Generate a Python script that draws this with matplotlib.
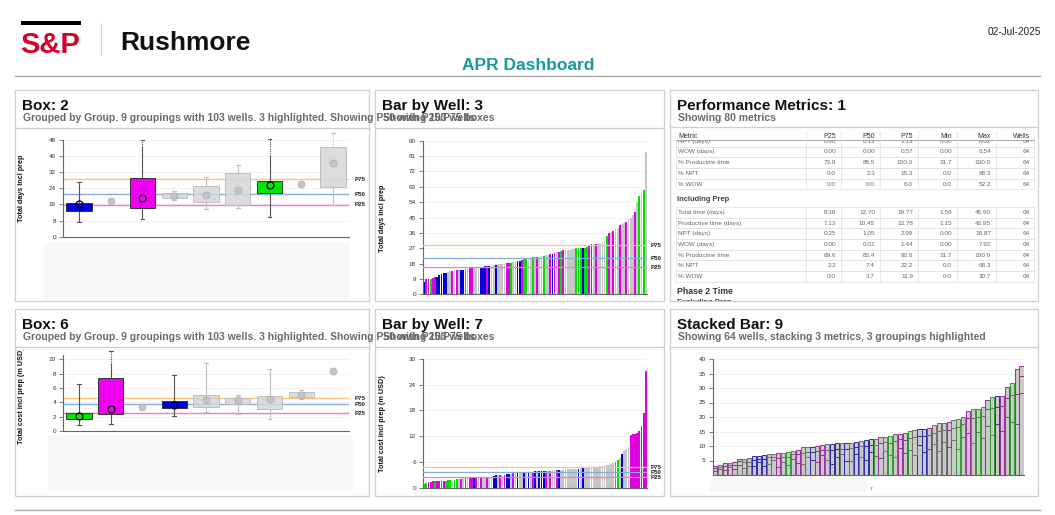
import numpy as np
import matplotlib
matplotlib.use('Agg')
import matplotlib.pyplot as plt
from matplotlib.patches import Rectangle

W, H = 1055, 515
plt.rcParams['font.family'] = ['Liberation Sans', 'DejaVu Sans']
nan = np.nan

# ---------------- data ----------------
ref_names = ['P75', 'P50', 'P25']

# Box: 2  (Total days incl prep)
box2_keys = ['B', 'Y', 'M', 'Y', 'Y', 'Y', 'G', 'Y', 'Y']
box2_q1 = [12.6, nan, 14.4, 19.0, 17.1, 15.9, 21.8, nan, 24.8]
box2_q3 = [16.7, nan, 29.1, 21.5, 25.3, 31.4, 27.8, nan, 44.4]
box2_med = [16.1, 17.5, 19.4, 20.3, 20.5, 23.2, 25.7, 26.0, 36.4]
box2_lo = [7.1, nan, 8.8, 18.2, 13.7, 14.4, 9.9, nan, 15.7]
box2_hi = [27.0, nan, 44.5, 22.5, 29.8, 35.7, 40.0, nan, 44.4]
box2_ext = [nan, nan, 48.0, nan, nan, nan, 48.5, nan, 51.3]
box2_refs = [28.5, 21.0, 15.9]
box2_yticks = [0, 8, 16, 24, 32, 40, 48]

# Box: 6  (Total cost incl prep, m USD)
box6_keys = ['G', 'M', 'Y', 'B', 'Y', 'Y', 'Y', 'Y', 'Y']
box6_q1 = [1.62, 2.36, nan, 3.19, 3.38, 3.80, 3.01, 4.68, nan]
box6_q3 = [2.46, 7.45, nan, 4.12, 5.09, 4.58, 4.86, 5.37, nan]
box6_med = [2.04, 3.10, 3.29, 3.65, 4.26, 4.36, 4.49, 5.05, 8.38]
box6_lo = [0.83, 0.97, nan, 2.04, 2.59, 2.31, 1.62, 4.40, nan]
box6_hi = [6.57, 9.40, nan, 7.87, 9.54, 5.09, 8.70, 5.65, nan]
box6_ext = [nan, 11.1, nan, nan, nan, nan, nan, nan, nan]
box6_refs = [4.58, 3.70, 2.45]
box6_yticks = [0, 2, 4, 6, 8, 10]

# Bar by Well: 3  (Total days incl prep, 103 wells)
bar3_vals = [7.0, 8.8, 8.9, 9.0, 9.4, 10.0, 10.4, 11.2, 11.8, 12.3,
             12.7, 13.1, 13.5, 13.8, 14.0, 14.1, 14.2, 14.4, 14.5, 14.7,
             15.0, 15.3, 15.5, 15.6, 15.7, 15.8, 16.0, 16.2, 16.4, 16.5,
             16.6, 16.8, 17.0, 17.3, 17.5, 17.7, 17.8, 17.9, 18.1, 18.3,
             18.6, 18.9, 19.2, 19.5, 19.8, 20.1, 20.5, 20.9, 21.3, 21.5,
             21.6, 21.7, 21.8, 22.0, 22.2, 22.5, 22.8, 23.1, 23.4, 23.8,
             24.1, 24.5, 24.9, 25.4, 25.8, 25.9, 26.0, 26.2, 26.5, 26.8,
             27.1, 27.2, 27.3, 27.3, 27.4, 27.6, 28.6, 29.2, 29.3, 29.4,
             29.7, 30.3, 30.9, 32.0, 34.4, 35.7, 36.3, 37.1, 38.0, 39.0,
             40.6, 41.0, 42.0, 42.3, 44.0, 45.0, 46.5, 48.0, 54.3, 57.6,
             59.6, 61.1, 83.6]
bar3_keys = ("BMMGMMBBBB" "BYYMYMYBBG" "YMMYYYBBBM" "BYYBYYYYMM" "GYYBBMGGYY"
             "GYMYYGYYMB" "MYMGMYYYYY" "GGGBGGMMYM" "YYYYGMYMYY" "MYYMYYYMYG" "YGY")
bar3_refs = [28.7, 21.1, 15.8]
bar3_yticks = [0, 9, 18, 27, 36, 45, 54, 63, 72, 81, 90]

# Bar by Well: 7  (Total cost incl prep, m USD)
bar7_vals = [0.9, 1.2, 1.35, 1.4, 1.45, 1.5, 1.5, 1.55, 1.55, 1.6,
             1.65, 1.7, 1.7, 1.75, 1.9, 1.95, 2.0, 2.1, 2.15, 2.2,
             2.25, 2.25, 2.3, 2.3, 2.35, 2.35, 2.45, 2.5, 2.5, 2.55,
             2.6, 2.65, 2.8, 2.85, 2.9, 3.0, 3.0, 3.05, 3.2, 3.25,
             3.3, 3.35, 3.4, 3.5, 3.5, 3.55, 3.6, 3.65, 3.7, 3.7,
             3.75, 3.8, 3.8, 3.85, 3.9, 3.9, 3.95, 4.0, 4.0, 4.05,
             4.1, 4.1, 4.15, 4.2, 4.2, 4.25, 4.25, 4.3, 4.3, 4.35,
             4.4, 4.45, 4.5, 4.5, 4.55, 4.6, 4.65, 4.7, 4.75, 4.8,
             4.9, 5.0, 5.1, 5.2, 5.3, 5.4, 5.5, 5.7, 6.0, 6.5,
             7.0, 7.9, 8.5, 9.0, 9.6, 12.4, 12.5, 12.6, 12.8, 13.3,
             14.3, 17.5, 27.2]
bar7_keys = ("GGMMMGMMGM" "GGGYGGYMYM" "YMMBMYMYYM" "YYBBYMYMBB" "YMYBYYBYBY"
             "MBYBBBMYMY" "YMBYYYYYYY" "YBYBYYYYYY" "YYYYYYYYGG" "YBYYYMMMMM" "MMM")
bar7_refs = [4.74, 3.57, 2.41]
bar7_yticks = [0, 6, 12, 18, 24, 30]

# Stacked Bar: 9  (64 wells, 3 metrics)
stk_keys = "PYPYPPYYBB" "BYYPYGYPYG" "BPPYBBYBYB" "YBBGPYGYPP" "GYBBPYGYPY" "GYPYGYPGBP" "PGPP"
stk_a = [1.5, 2.2, 1.8, 2.9, 2.1, 3.6, 2.4, 3.1, 3.2, 4.5, 3.0, 3.9, 5.1, 2.8, 4.4, 3.5,
         5.6, 4.0, 3.7, 6.2, 5.1, 4.6, 6.8, 5.3, 3.9, 6.1, 7.2, 5.0, 4.8, 7.4, 6.3, 5.2,
         8.1, 6.6, 5.7, 8.4, 7.0, 6.1, 9.3, 7.5, 8.6, 6.8, 10.2, 7.9, 9.1, 10.8, 8.2, 11.5,
         9.6, 12.1, 8.8, 13.0, 14.4, 11.2, 15.0, 12.6, 16.8, 13.9, 17.5, 15.3, 20.1, 18.4, 17.6, 28.2]
stk_b = [0.9, 0.6, 1.4, 0.7, 1.5, 1.1, 2.0, 1.4, 2.1, 1.0, 2.4, 2.2, 1.1, 3.0, 1.9, 2.6,
         1.5, 3.1, 3.9, 1.8, 2.9, 3.6, 1.7, 3.4, 4.8, 2.9, 1.9, 4.1, 4.4, 2.1, 3.6, 4.9,
         2.3, 3.9, 5.2, 2.9, 4.1, 5.5, 3.0, 4.6, 4.0, 6.2, 3.1, 5.4, 4.6, 3.8, 6.9, 4.1,
         6.0, 4.2, 7.7, 4.5, 5.3, 8.6, 5.0, 7.9, 6.1, 9.2, 6.0, 8.5, 6.3, 9.1, 10.2, 5.9]
stk_c = [0.8, 0.65, 1.05, 0.65, 0.8, 0.8, 1.2, 1.2, 1.25, 1.2, 1.4, 1.3, 1.2, 1.7, 1.3, 1.7,
         1.3, 1.4, 1.9, 1.65, 1.8, 1.9, 1.8, 1.9, 2.1, 1.9, 1.8, 1.8, 1.7, 1.8, 1.9, 2.0,
         1.9, 2.0, 2.1, 1.8, 2.2, 2.5, 2.0, 2.3, 2.6, 2.5, 2.4, 2.4, 2.4, 2.5, 2.7, 2.3,
         2.7, 2.6, 2.7, 2.4, 2.4, 2.8, 2.9, 2.8, 2.8, 3.8, 3.6, 3.3, 3.8, 4.1, 8.6, 3.5]
stk_yticks = [5, 10, 15, 20, 25, 30, 35, 40]

# Performance metrics table
table_cols = ['P25', 'P50', 'P75', 'Min', 'Max', 'Wells']
excl_labels = ['NPT (days)', 'WOW (days)', '% Productive time', '% NPT', '% WOW']
excl_values = [['0.00', '0.13', '1.13', '0.00', '8.02', '64'],
               ['0.00', '0.00', '0.57', '0.00', '6.54', '64'],
               ['73.9', '88.5', '100.0', '31.7', '100.0', '64'],
               ['0.0', '2.3', '15.3', '0.0', '68.3', '64'],
               ['0.0', '0.0', '6.0', '0.0', '52.2', '64']]
incl_labels = ['Total time (days)', 'Productive time (days)', 'NPT (days)', 'WOW (days)',
               '% Productive time', '% NPT', '% WOW']
incl_values = [['8.38', '12.70', '19.77', '1.56', '45.90', '64'],
               ['7.13', '10.45', '13.78', '1.15', '43.95', '64'],
               ['0.25', '1.05', '2.99', '0.00', '18.87', '64'],
               ['0.00', '0.02', '1.44', '0.00', '7.92', '64'],
               ['69.6', '83.4', '93.6', '31.7', '100.0', '64'],
               ['2.2', '7.4', '22.2', '0.0', '68.3', '64'],
               ['0.0', '3.7', '11.9', '0.0', '30.7', '64']]

# ---------------- styles ----------------
PAL = {'B': '#0000e6', 'M': '#f000f0', 'G': '#00e600', 'Y': '#d6d6d6'}
BARPAL = {'B': '#0000d8', 'M': '#e000e0', 'G': '#00e000', 'Y': '#c6c6c6'}
STKEDGE = {'P': '#9a2e9a', 'B': '#2e2ea6', 'G': '#2e9a2e', 'Y': '#707070'}
REFC = ['#ffc47a', '#7fb0e0', '#ee7ccc']
GRID = '#f0f0f0'
AXC = '#666666'

fig = plt.figure(figsize=(W / 100, H / 100), dpi=100)
fig.patch.set_facecolor('white')


def px_axes(x0, y0, x1, y1):
    return fig.add_axes([x0 / W, 1 - y1 / H, (x1 - x0) / W, (y1 - y0) / H])


def px_canvas(x0, y0, x1, y1):
    a = px_axes(x0, y0, x1, y1)
    a.set_xlim(x0, x1)
    a.set_ylim(y1, y0)
    a.axis('off')
    a.patch.set_alpha(0)
    return a


bg = px_canvas(0, 0, W, H)

# header
bg.add_patch(Rectangle((21, 21), 60, 4, color='black', lw=0))
bg.text(20, 53, 'S&P', color='#d6002a', fontsize=21, fontweight='bold', va='baseline', ha='left')
bg.plot([101, 101], [23, 55], color='#d6d6d6', lw=0.8)
bg.text(120, 50, 'Rushmore', fontsize=19, fontweight='bold', va='baseline', color='#111111')
bg.text(1041, 32, '02-Jul-2025', fontsize=7.3, ha='right', va='center', color='#222222')
bg.text(528, 70, 'APR Dashboard', fontsize=12.5, fontweight='bold', color='#169a9a',
        ha='center', va='baseline')
bg.plot([15, 1040], [76, 76], color='#aaaaaa', lw=1)
bg.plot([15, 1040], [510, 510], color='#aaaaaa', lw=1)

# panels: x0, y0, x1, y1, separator y, title, subtitle
panels = [
    (15, 90, 369, 301, 128, 'Box: 2',
     'Grouped by Group. 9 groupings with 103 wells. 3 highlighted. Showing P50 with P25/P75 boxes'),
    (375, 90, 664, 301, 128, 'Bar by Well: 3', 'Showing 103 wells'),
    (670, 90, 1038, 301, 127, 'Performance Metrics: 1', 'Showing 80 metrics'),
    (15, 309, 369, 496, 347, 'Box: 6',
     'Grouped by Group. 9 groupings with 103 wells. 3 highlighted. Showing P50 with P25/P75 boxes'),
    (375, 309, 664, 496, 347, 'Bar by Well: 7', 'Showing 103 wells'),
    (670, 309, 1038, 496, 347, 'Stacked Bar: 9',
     'Showing 64 wells, stacking 3 metrics, 3 groupings highlighted'),
]
for (x0, y0, x1, y1, sy, t, st) in panels:
    bg.add_patch(Rectangle((x0, y0), x1 - x0, y1 - y0, fill=False, ec='#cfcfcf', lw=0.9))
    bg.plot([x0, x1], [sy, sy], color='#cfcfcf', lw=0.9)
    bg.text(x0 + 7, y0 + 20, t, fontsize=11, fontweight='bold', va='baseline', color='#111111')
    bg.text(x0 + 8, y0 + 31, st, fontsize=7.5, fontweight='bold', va='baseline', color='#6a6a6a')

# light empty x-label zones
for (x0, y0, x1, y1) in [(44, 242, 349, 299), (48, 435, 353, 490), (710, 478, 867, 492)]:
    bg.add_patch(Rectangle((x0, y0), x1 - x0, y1 - y0, color='#f8f8f8', lw=0))
bg.text(872, 488, 'r', fontsize=4, color='#555555', ha='center', va='center')


def style_axes(ax, ylim, yticks, ticklabels=None):
    ax.set_ylim(*ylim)
    ax.set_yticks(yticks)
    if ticklabels is not None:
        ax.set_yticklabels(ticklabels)
    ax.set_xticks([])
    for s in ['top', 'right']:
        ax.spines[s].set_visible(False)
    for s in ['left', 'bottom']:
        ax.spines[s].set_color(AXC)
        ax.spines[s].set_linewidth(0.8)
    ax.tick_params(axis='y', labelsize=4.6, colors='#333333', length=3, width=0.6, pad=2)
    ax.tick_params(axis='y', color=AXC)
    for t in yticks:
        ax.axhline(t, color=GRID, lw=0.6, zorder=0)
    ax.patch.set_alpha(0)


def ref_labels(ax, refs, x_px):
    tr = matplotlib.transforms.blended_transform_factory(bg.transData, ax.transData)
    for name, v in zip(ref_names, refs):
        ax.text(x_px, v, name, transform=tr, fontsize=4.4, fontweight='bold', color='#222222',
                va='center', ha='left', clip_on=False)


def box_panel(ax, q1, q3, med, lo, hi, ext, keys, refs, ylim, yticks):
    n = len(med)
    ax.set_xlim(-0.5, n - 0.5)
    for c, v in zip(REFC, refs):
        ax.axhline(v, color=c, lw=1.0, zorder=1)
    stats, pos, ks = [], [], []
    for i in range(n):
        if not np.isnan(q1[i]):
            stats.append(dict(med=med[i], q1=q1[i], q3=q3[i], whislo=lo[i], whishi=hi[i], fliers=[]))
            pos.append(i)
            ks.append(keys[i])
    art = ax.bxp(stats, positions=pos, widths=0.8, patch_artist=True, showfliers=False,
                 capwidths=0.12, medianprops=dict(linewidth=0), manage_ticks=False)
    for j, k in enumerate(ks):
        hl = k != 'Y'
        b = art['boxes'][j]
        b.set_facecolor(PAL[k])
        b.set_edgecolor('#333333' if hl else '#b8b8b8')
        b.set_linewidth(0.7)
        b.set_zorder(3)
        if not hl:
            b.set_alpha(0.85)
        for ln in art['whiskers'][2 * j:2 * j + 2] + art['caps'][2 * j:2 * j + 2]:
            ln.set_color('#555555' if hl else '#c0c0c0')
            ln.set_linewidth(0.8)
            ln.set_zorder(2)
        if not np.isnan(ext[pos[j]]):
            art['caps'][2 * j + 1].set_visible(False)
    for i in range(n):
        if not np.isnan(ext[i]):
            hl = keys[i] != 'Y'
            c = '#555555' if hl else '#c0c0c0'
            ax.plot([i, i], [hi[i], ext[i]], ls=(0, (1, 1)), color=c, lw=0.8, clip_on=False, zorder=2)
            ax.plot([i - 0.06, i + 0.06], [ext[i], ext[i]], color=c, lw=0.8, clip_on=False, zorder=2)
    for i in range(n):
        k = keys[i]
        if k == 'Y':
            ax.plot(i, med[i], 'o', ms=5, mfc='#c4c4c4', mec='#b2b2b2', mew=0.6, zorder=4)
        else:
            ax.plot(i, med[i], 'o', ms=5, mfc='none', mec='black', mew=0.9, zorder=4)
    style_axes(ax, ylim, yticks)


def bar_panel(ax, vals, keys, refs, ylim, yticks):
    x = np.arange(len(vals))
    ax.bar(x, vals, width=0.82, color=[BARPAL[k] for k in keys], lw=0, zorder=2)
    ax.set_xlim(-0.5, len(vals) - 0.5)
    for c, v in zip(REFC, refs):
        ax.axhline(v, color=c, lw=0.9, zorder=3)
    style_axes(ax, ylim, yticks)


# ---- Box: 2
ax1 = px_axes(63, 140, 349, 236.7)
box_panel(ax1, box2_q1, box2_q3, box2_med, box2_lo, box2_hi, box2_ext, box2_keys, box2_refs,
          (0, 48), box2_yticks)
ref_labels(ax1, box2_refs, 355)
bg.text(22, 188, 'Total days incl prep', rotation=90, fontsize=5.2, fontweight='bold',
        ha='center', va='center', color='#111111')

# ---- Box: 6
ax4 = px_axes(63, 355, 349, 431)
box_panel(ax4, box6_q1, box6_q3, box6_med, box6_lo, box6_hi, box6_ext, box6_keys, box6_refs,
          (0, 10.6), box6_yticks)
ref_labels(ax4, box6_refs, 355)
cv4 = px_canvas(16, 350, 368, 495)
cv4.text(22, 396, 'Total cost incl prep (m USD)', rotation=90, fontsize=5.2, fontweight='bold',
         ha='center', va='center', color='#111111', clip_on=True)

# ---- Bar by Well: 3
ax2 = px_axes(423, 140.7, 647, 294.3)
bar_panel(ax2, bar3_vals, bar3_keys, bar3_refs, (0, 90), bar3_yticks)
ref_labels(ax2, bar3_refs, 651)
bg.text(382, 218, 'Total days incl prep', rotation=90, fontsize=5.2, fontweight='bold',
        ha='center', va='center', color='#111111')

# ---- Bar by Well: 7
ax5 = px_axes(423, 359, 647, 487.7)
bar_panel(ax5, bar7_vals, bar7_keys, bar7_refs, (0, 30), bar7_yticks)
ref_labels(ax5, bar7_refs, 651)
bg.text(382, 424, 'Total cost incl prep (m USD)', rotation=90, fontsize=5.2, fontweight='bold',
        ha='center', va='center', color='#111111')

# ---- Stacked Bar: 9
ax6 = px_axes(712.7, 359, 1024, 475)
xs = np.arange(len(stk_a))
ecs = [STKEDGE[k] for k in stk_keys]
bot = np.zeros(len(stk_a))
for seg in (stk_a, stk_b, stk_c):
    ax6.bar(xs, seg, bottom=bot, width=0.86, color='#c9c9c9', edgecolor=ecs, lw=0.7, zorder=2)
    bot = bot + np.array(seg)
ax6.set_xlim(-0.5, len(stk_a) - 0.5)
style_axes(ax6, (0, 40), stk_yticks)

# ---- Performance Metrics table
tab = px_canvas(671, 128, 1037, 301)
TX0, TX1 = 676, 1034
col_right = [836, 875, 913, 952, 991, 1030]
col_left_lines = [806, 841, 880, 918, 957, 996]
RH = 10.7
LC = '#e4e4e4'


def table_row(y, label, vals):
    tab.add_patch(Rectangle((TX0, y - RH / 2), TX1 - TX0, RH, fill=False, ec=LC, lw=0.6, clip_on=True))
    for xl in col_left_lines:
        tab.plot([xl, xl], [y - RH / 2, y + RH / 2], color=LC, lw=0.6, clip_on=True)
    tab.text(TX0 + 2, y, label, fontsize=4.6, color='#666666', va='center', ha='left', clip_on=True)
    for xr, v in zip(col_right, vals):
        tab.text(xr, y, v, fontsize=4.6, color='#666666', va='center', ha='right', clip_on=True)


y = 141.2
for lab, vals in zip(excl_labels, excl_values):
    table_row(y, lab, vals)
    y += RH
tab.text(TX0 + 1, 199.3, 'Including Prep', fontsize=5.4, fontweight='bold', color='#444444',
         va='center', clip_on=True)
y = 212.3
for lab, vals in zip(incl_labels, incl_values):
    table_row(y, lab, vals)
    y += RH
tab.text(TX0 + 1, 291, 'Phase 2 Time', fontsize=6.3, fontweight='bold', color='#333333',
         va='center', clip_on=True)
tab.text(TX0 + 1, 302.5, 'Excluding Prep', fontsize=5.4, fontweight='bold', color='#444444',
         va='center', clip_on=True)
# sticky header
tab.add_patch(Rectangle((TX0, 129), TX1 - TX0, 11.2, color='white', lw=0, zorder=5, clip_on=True))
tab.plot([TX0, TX1], [140.2, 140.2], color='#999999', lw=0.6, zorder=6)
for xl in col_left_lines:
    tab.plot([xl, xl], [131, 140.2], color=LC, lw=0.6, zorder=6)
tab.text(TX0 + 2, 136, 'Metric', fontsize=5, color='#333333', va='center', ha='left', zorder=7)
for xr, c in zip(col_right, table_cols):
    tab.text(xr, 136, c, fontsize=5, color='#333333', va='center', ha='right', zorder=7)

fig.savefig('out.png', dpi=100, facecolor='white')
